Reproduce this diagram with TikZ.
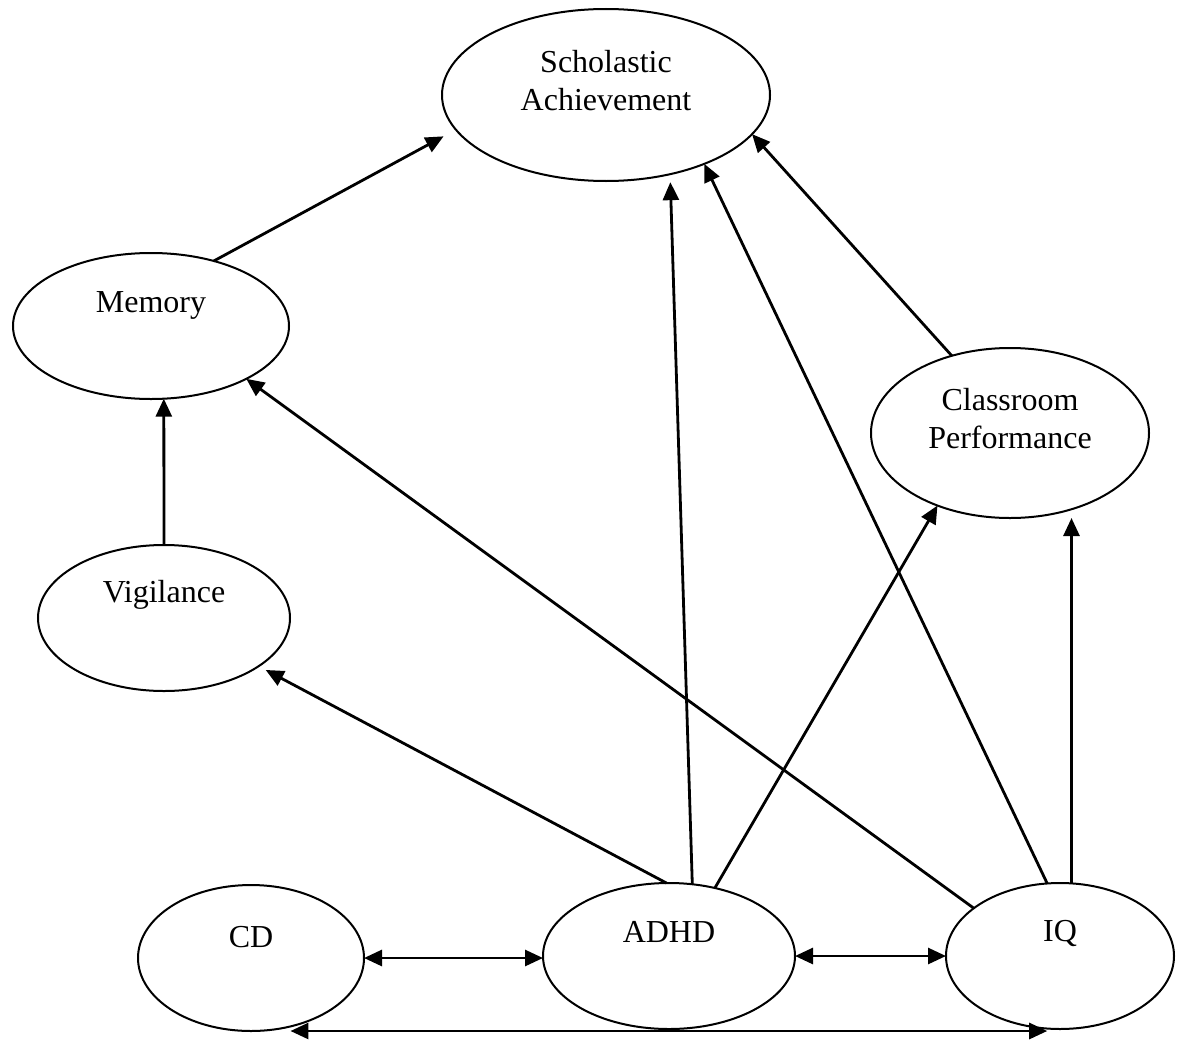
\documentclass[tikz,border=0pt]{standalone}
\usepackage{fontspec}
\setmainfont{Liberation Serif}
\usetikzlibrary{shapes.geometric,arrows.meta,calc}
\begin{document}
\begin{tikzpicture}[x=1pt,y=-1pt,
  var/.style={ellipse,draw,line width=2pt,inner sep=0pt,outer sep=0pt},
  lbl/.style={font=\fontsize{32}{38}\selectfont,align=center,inner sep=0pt},
  arr/.style={line width=2.8pt,-{Triangle[length=18pt,width=16pt]}},
  both/.style={line width=2.8pt,{Triangle[length=18pt,width=16pt]}-{Triangle[length=18pt,width=16pt]}}]

% page area
\fill[white] (0,0) rectangle (1177,1041);
\useasboundingbox (0,0) rectangle (1177,1041);

% variables
\node[var,minimum width=328,minimum height=172,
      label={[lbl,yshift=14pt]center:Scholastic\\Achievement}] (SA) at (606,95) {};
\node[var,minimum width=276,minimum height=146,
      label={[lbl,yshift=21pt]center:Memory}] (Mem) at (151,326) {};
\node[var,minimum width=252,minimum height=146,
      label={[lbl,yshift=23pt]center:Vigilance}] (Vig) at (164,618) {};
\node[var,minimum width=278,minimum height=170,
      label={[lbl,yshift=14pt]center:Classroom\\Performance}] (CP) at (1010,433) {};
\node[var,minimum width=226,minimum height=146,
      label={[lbl,yshift=21pt]center:CD}] (CD) at (251,958) {};
\node[var,minimum width=252,minimum height=146,
      label={[lbl,yshift=24pt]center:ADHD}] (ADHD) at (669,956) {};
\node[var,minimum width=228,minimum height=146,
      label={[lbl,yshift=23pt]center:IQ}] (IQ) at (1060,956) {};

% paths
\draw[arr,shorten >=14pt] (Mem.46) -- (SA.193);
\draw[arr,shorten >=8pt] (ADHD.72) -- (SA.309);
\draw[arr] (IQ.100) -- (SA.325);
\draw[arr] (CP.127) -- (SA.345);
\draw[arr] (IQ.151) -- (Mem.331);
\draw[arr] (Vig.north) -- (Mem.280);
\draw[arr,shorten >=8pt] (ADHD.92) -- (Vig.333);
\draw[arr] (ADHD.56) -- (CP.225);
\draw[arr] (IQ.81) -- (IQ.81 |- CP.south);

% correlations
\draw[both] (CD.east) -- (CD.east -| ADHD.west);
\draw[both] (ADHD.east) -- (ADHD.east -| IQ.west);
\draw[both] (CD.300 |- CD.south) -- (IQ.260 |- CD.south);
\end{tikzpicture}
\end{document}
